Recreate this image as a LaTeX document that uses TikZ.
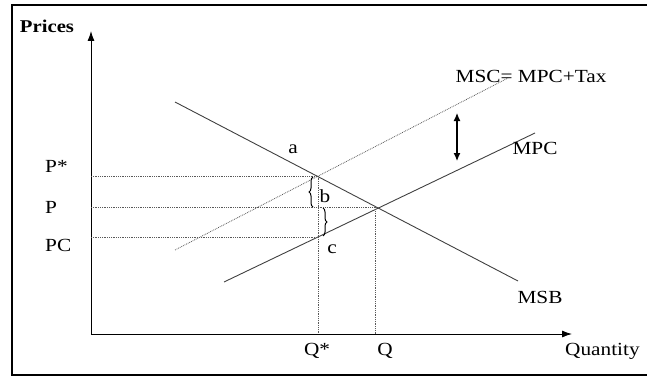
\documentclass[tikz,border=0pt]{standalone}
\usepackage{fontspec}
\setmainfont{Liberation Serif}[FakeStretch=1.15]
\usetikzlibrary{arrows.meta,decorations.pathreplacing,positioning}

\begin{document}
\begin{tikzpicture}[x=1pt,y=-1pt,>=Latex,
  curve/.style={draw=black!75,line width=0.9pt},
  guide/.style={draw=black!65,densely dotted,line width=0.8pt},
  lbl/.style={font=\fontsize{18.5}{20}\selectfont,inner sep=0pt},
  gap/.style={decorate,decoration={brace,amplitude=4pt},line width=1pt}]
  \useasboundingbox (0,0) rectangle (647,377);
  % frame
  \draw[line width=1.6pt] (647,5) -- (12,5) -- (12,375) -- (647,375);
  % axes
  \coordinate (O) at (91,334);
  \coordinate (ytip) at (91,31);
  \coordinate (xtip) at (572,334);
  \draw[line width=0.9pt,-{Latex[length=10pt,width=7pt]}] (O) -- (ytip);
  \draw[line width=0.9pt,-{Latex[length=10pt,width=7pt]}] (O) -- (xtip);
  % curves
  \coordinate (msbA) at (175,102);
  \coordinate (msbB) at (518,281);
  \coordinate (mscA) at (175,250);
  \coordinate (mscB) at (508,78);
  \coordinate (mpcA) at (224,282);
  \coordinate (mpcB) at (535,133);
  \draw[curve] (msbA) -- (msbB);
  \draw[guide] (mscA) -- (mscB);
  \draw[curve] (mpcA) -- (mpcB);
  % equilibrium points
  \coordinate (Estar) at (318,176);
  \coordinate (E) at (375,207);
  \coordinate (C) at (318,237);
  \coordinate (yPstar) at (91,176);
  \coordinate (yP) at (91,207);
  \coordinate (yPC) at (91,237);
  \coordinate (xQstar) at (318,334);
  \coordinate (xQ) at (375,334);
  \draw[guide] (yPstar) -- (Estar) -- (xQstar);
  \draw[guide] (yP) -- (E) -- (xQ);
  \draw[guide] (yPC) -- (C);
  % braces
  \draw[gap] (313,207) -- (313,177);
  \draw[gap] (323,208) -- (323,236);
  % tax gap
  \draw[line width=1.2pt,{Latex[length=8pt,width=7pt]}-{Latex[length=8pt,width=7pt]}] (457,113) -- (457,161);
  % labels
  \node[lbl,font=\fontsize{18}{20}\selectfont\bfseries] (prices) at (47,26) {Prices};
  \node[lbl,anchor=base west] (pstar) at (45,172) {P*};
  \node[lbl,anchor=base west] (p) at (45,213) {P};
  \node[lbl,anchor=base west] (pc) at (45,251) {PC};
  \node[lbl,anchor=base] (qstar) at (317,355) {Q*};
  \node[lbl,anchor=base] (q) at (385,355) {Q};
  \node[lbl,anchor=base west] (quantity) at (565,355) {Quantity};
  \node[lbl,anchor=base] (msb) at (540,303) {MSB};
  \node[lbl,anchor=base] (mpc) at (535,154) {MPC};
  \node[lbl,anchor=base] (msc) at (531,83) {MSC= MPC+Tax};
  \node[lbl,anchor=base] (la) at (293,153) {a};
  \node[lbl,anchor=base] (lb) at (325,202) {b};
  \node[lbl,anchor=base] (lc) at (332,253) {c};
\end{tikzpicture}
\end{document}
